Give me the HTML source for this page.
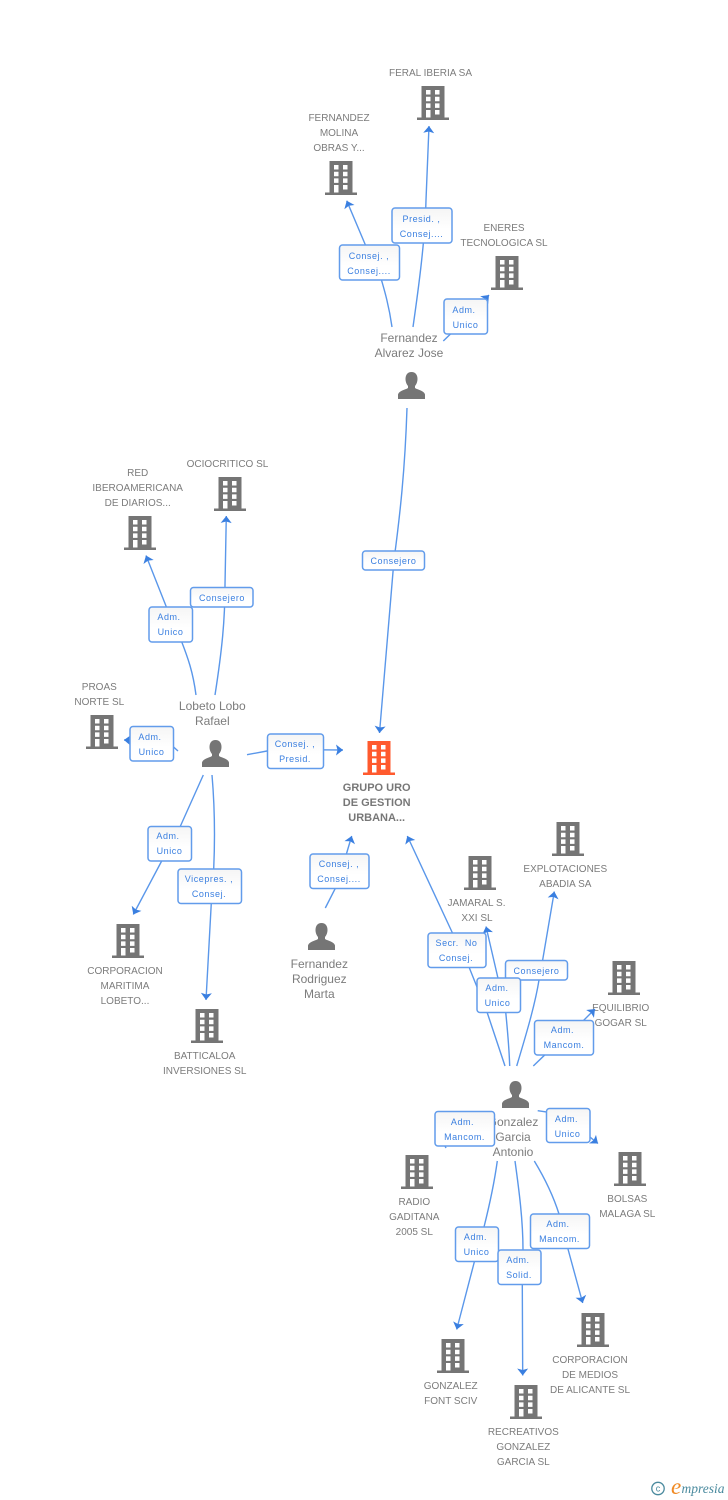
<!DOCTYPE html>
<html><head><meta charset="utf-8"><title>Diagram</title>
<style>
html,body{margin:0;padding:0;background:#fff}
svg{display:block}
.l text{font:10px "Liberation Sans",Arial,sans-serif;fill:#7c7c7c;text-anchor:middle}
.l text.p{font-size:12px}
.l text.b{font-size:11px;font-weight:bold;fill:#777}
.c path{fill:none;stroke:#5a97ea;stroke-width:1.4;marker-end:url(#a)}
.c path.n{marker-end:none}
.x rect{fill:url(#g);stroke:#629ceb;stroke-width:1.5}
.x text{font:9px "Liberation Sans",Arial,sans-serif;fill:#3a7fe0;text-anchor:middle;letter-spacing:.55px}
</style></head><body>
<svg width="728" height="1500" viewBox="0 0 728 1500" xmlns="http://www.w3.org/2000/svg">
<defs>
<linearGradient id="g" x1="0" y1="0" x2="0" y2="1"><stop offset="0" stop-color="#f5f5f5"/><stop offset=".6" stop-color="#fff"/></linearGradient>
<marker id="a" markerUnits="userSpaceOnUse" markerWidth="14" markerHeight="14" refX="10" refY="7" orient="auto"><path d="M10 7L3 1.500L4.500 7L3 12.500Z" fill="#3a7fe0"/></marker>
<g id="bi"><path fill-rule="evenodd" d="M4.5 0H27.500V31.500H32V34H0V31.500H4.500ZM9 4V8.500H13.500V4ZM18 4V8.500H22.500V4ZM9 10.700V15.200H13.500V10.700ZM18 10.700V15.200H22.500V10.700ZM9 17.400V21.900H13.500V17.400ZM18 17.400V21.900H22.500V17.400ZM9 24V31.500H13.500V24ZM18 24V28.500H22.500V24Z"/></g>
<g id="pe"><path d="M13.500 0C17.500 0 19.500 3 19.500 7C19.500 10 18.300 12.500 17 14V16C20 18 26 18.500 27 22.500V27H0V22.500C1 18.500 7 18 10 16V14C8.700 12.500 7.500 10 7.500 7C7.500 3 9.500 0 13.500 0Z"/></g>
</defs>

<g fill="#757575">
<use href="#bi" x="417" y="86"/><use href="#bi" x="325" y="161"/><use href="#bi" x="491" y="256"/>
<use href="#bi" x="124" y="516"/><use href="#bi" x="214" y="477"/><use href="#bi" x="86" y="715"/>
<use href="#bi" x="112" y="924"/><use href="#bi" x="191" y="1009"/><use href="#bi" x="464" y="856"/>
<use href="#bi" x="552" y="822"/><use href="#bi" x="608" y="961"/><use href="#bi" x="401" y="1155"/>
<use href="#bi" x="614" y="1152"/><use href="#bi" x="437" y="1339"/><use href="#bi" x="510" y="1385"/>
<use href="#bi" x="577" y="1313"/>
<use href="#pe" x="398" y="372"/><use href="#pe" x="202" y="740"/><use href="#pe" x="308" y="923"/><use href="#pe" x="502" y="1081"/>
</g>
<use href="#bi" x="363" y="741" fill="#ff5a2e"/>

<g class="l">
<text x="430.500" y="76">FERAL IBERIA SA</text>
<text x="339" y="121">FERNANDEZ</text><text x="339" y="136">MOLINA</text><text x="339" y="151">OBRAS Y...</text>
<text x="504" y="231">ENERES</text><text x="504" y="246">TECNOLOGICA SL</text>
<text class="p" x="409" y="342">Fernandez</text><text class="p" x="409" y="357">Alvarez Jose</text>
<text x="227.500" y="467">OCIOCRITICO SL</text>
<text x="137.700" y="476">RED</text><text x="137.700" y="491">IBEROAMERICANA</text><text x="137.700" y="506">DE DIARIOS...</text>
<text x="99.300" y="690">PROAS</text><text x="99.300" y="705">NORTE SL</text>
<text class="p" x="212.300" y="710">Lobeto Lobo</text><text class="p" x="212.300" y="725">Rafael</text>
<text class="b" x="376.700" y="791">GRUPO URO</text><text class="b" x="376.700" y="806">DE GESTION</text><text class="b" x="376.700" y="821">URBANA...</text>
<text x="125" y="974">CORPORACION</text><text x="125" y="989">MARITIMA</text><text x="125" y="1004">LOBETO...</text>
<text x="204.700" y="1059">BATTICALOA</text><text x="204.700" y="1074">INVERSIONES SL</text>
<text class="p" x="319.300" y="968">Fernandez</text><text class="p" x="319.300" y="983">Rodriguez</text><text class="p" x="319.300" y="998">Marta</text>
<text x="476.500" y="906">JAMARAL S.</text><text x="477" y="921">XXI SL</text>
<text x="565.300" y="872">EXPLOTACIONES</text><text x="565.300" y="887">ABADIA SA</text>
<text x="620.700" y="1011">EQUILIBRIO</text><text x="620.700" y="1026">GOGAR SL</text>
<text class="p" x="513" y="1126">Gonzalez</text><text class="p" x="513" y="1141">Garcia</text><text class="p" x="513" y="1156">Antonio</text>
<text x="414.300" y="1205">RADIO</text><text x="414.300" y="1220">GADITANA</text><text x="414.300" y="1235">2005 SL</text>
<text x="627.300" y="1202">BOLSAS</text><text x="627.300" y="1217">MALAGA SL</text>
<text x="450.700" y="1389">GONZALEZ</text><text x="450.700" y="1404">FONT SCIV</text>
<text x="523.300" y="1435">RECREATIVOS</text><text x="523.300" y="1450">GONZALEZ</text><text x="523.300" y="1465">GARCIA SL</text>
<text x="590" y="1363">CORPORACION</text><text x="590" y="1378">DE MEDIOS</text><text x="590" y="1393">DE ALICANTE SL</text>
</g>

<g class="c">
<path d="M413 327C419 285 425 240 426 200L429 126"/>
<path d="M392 327C389 306 385 292 380 275L365 244L346.700 200.700"/>
<path d="M443.300 341L470 315L489 295"/>
<path d="M407 408C405 470 400 515 394 560L379.500 733"/>
<path d="M196 695C193 672 188 658 181 640L166 606L146 555.500"/>
<path d="M215 695C222 650 225 620 225 585L226.300 516"/>
<path d="M178 751L168 742L124 740"/>
<path d="M247 754.700L267 751C290 749 310 750 343 750"/>
<path d="M203.300 775L180 827L161.700 861L133.300 914.500"/>
<path d="M212 775C215 810 215 840 213.700 869L211.300 903L206 1000"/>
<path d="M325.300 908L336 887L346.700 853L351.700 836"/>
<path d="M505 1066L487 1012L469 967L452 932L407.300 836"/>
<path d="M509.700 1066C509 1045 507 1025 505.700 1012L497.700 977L486 926.500"/>
<path d="M516.700 1066C526 1035 535 1005 539 980L543 958L554.300 891.500"/>
<path d="M533.300 1066L545 1054.700L584 1020L595 1009"/>
<path class="n" d="M445 1146L446 1148"/>
<path d="M537.700 1110.700L547 1112L575 1125L598 1143.500"/>
<path d="M497.300 1161C494 1185 489 1207 484 1227L474.300 1262L456.700 1329.500"/>
<path d="M515 1161C519 1190 523 1220 523 1250L522.300 1285L522.700 1375.500"/>
<path d="M534.300 1161C544 1177 553 1195 559 1214L567.700 1248L582.700 1303"/>
</g>

<g class="x">
<rect x="392" y="208" width="60" height="35" rx="3"/><text x="421.500" y="222">Presid. ,</text><text x="421.500" y="237">Consej....</text>
<rect x="339.500" y="245" width="60" height="35" rx="3"/><text x="369" y="259">Consej. ,</text><text x="369" y="274">Consej....</text>
<rect x="444" y="299" width="43.500" height="35" rx="3"/><text x="464" y="313">Adm.</text><text x="465.500" y="328">Unico</text>
<rect x="362.500" y="551" width="62" height="19" rx="3"/><text x="393.500" y="564">Consejero</text>
<rect x="190.500" y="587.500" width="62.500" height="19.500" rx="3"/><text x="222" y="601">Consejero</text>
<rect x="149" y="607" width="43.500" height="35" rx="3"/><text x="169" y="620">Adm.</text><text x="170.500" y="635">Unico</text>
<rect x="130" y="726.500" width="43.500" height="34.500" rx="3"/><text x="150" y="740">Adm.</text><text x="151.500" y="755">Unico</text>
<rect x="267.500" y="734" width="56" height="34.500" rx="3"/><text x="295" y="747">Consej. ,</text><text x="295" y="762">Presid.</text>
<rect x="148" y="826.500" width="43.500" height="34.500" rx="3"/><text x="168" y="839">Adm.</text><text x="169.500" y="854">Unico</text>
<rect x="178" y="869" width="63.500" height="34.500" rx="3"/><text x="209" y="882">Vicepres. ,</text><text x="209" y="897">Consej.</text>
<rect x="310" y="854" width="59" height="34.500" rx="3"/><text x="339" y="867">Consej. ,</text><text x="339" y="882">Consej....</text>
<rect x="428" y="933" width="58" height="34.500" rx="3"/><text x="456.500" y="946">Secr.&#160;&#160;No</text><text x="456" y="961">Consej.</text>
<rect x="505.500" y="960.500" width="62" height="19.500" rx="3"/><text x="536.500" y="974">Consejero</text>
<rect x="477" y="978" width="43.500" height="34.500" rx="3"/><text x="497" y="991">Adm.</text><text x="497.500" y="1006">Unico</text>
<rect x="534.500" y="1020.500" width="59" height="34.500" rx="3"/><text x="562.500" y="1033">Adm.</text><text x="564" y="1048">Mancom.</text>
<rect x="435" y="1111.500" width="59.500" height="34.500" rx="3"/><text x="462.500" y="1125">Adm.</text><text x="464.500" y="1140">Mancom.</text>
<rect x="546.500" y="1108.500" width="43.500" height="34" rx="3"/><text x="566.500" y="1122">Adm.</text><text x="567.500" y="1137">Unico</text>
<rect x="455.500" y="1227" width="43" height="34.500" rx="3"/><text x="475.500" y="1240">Adm.</text><text x="476.500" y="1255">Unico</text>
<rect x="498" y="1250" width="43" height="34.500" rx="3"/><text x="518" y="1263">Adm.</text><text x="519" y="1278">Solid.</text>
<rect x="530.500" y="1214" width="59" height="34.500" rx="3"/><text x="558" y="1227">Adm.</text><text x="559.500" y="1242">Mancom.</text>
</g>

<circle cx="658" cy="1488.500" r="6.200" fill="none" stroke="#4a8a9e" stroke-width="1.300"/>
<text x="658" y="1491.500" font-family="Liberation Sans,sans-serif" font-size="9" fill="#4a8a9e" text-anchor="middle">c</text>
<text x="671" y="1494" font-family="Liberation Serif,serif" font-style="italic" font-size="23" fill="#f08a24">e</text>
<text x="681.500" y="1493" font-family="Liberation Serif,serif" font-style="italic" font-size="13.500" fill="#4a8a9e">mpresia</text>
</svg>
</body></html>
